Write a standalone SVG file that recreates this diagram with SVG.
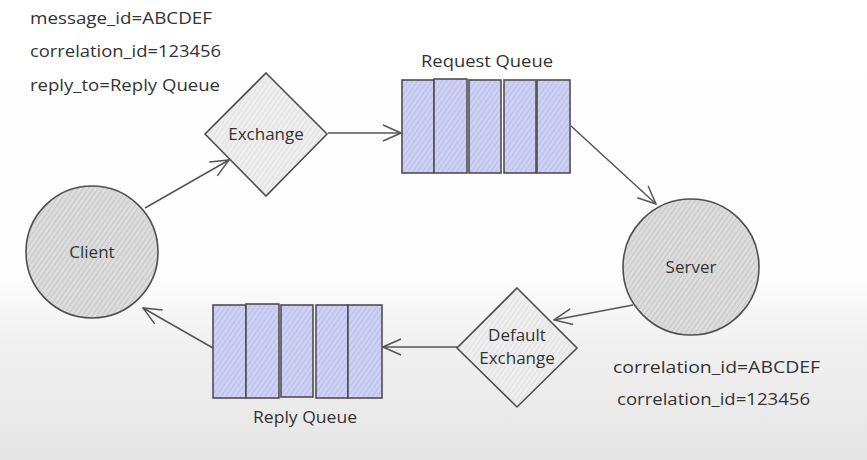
<svg xmlns="http://www.w3.org/2000/svg" width="867" height="460" viewBox="0 0 867 460">
<defs>
<linearGradient id="bg" x1="0" y1="0" x2="0" y2="1">
<stop offset="0" stop-color="#ffffff"/>
<stop offset="0.6" stop-color="#fdfdfd"/>
<stop offset="0.75" stop-color="#f0f0f0"/>
<stop offset="1" stop-color="#e6e6e6"/>
</linearGradient>
<pattern id="hatchGray" width="4" height="4" patternUnits="userSpaceOnUse" patternTransform="rotate(35)">
<rect width="4" height="4" fill="#dcdcdc"/>
<line x1="0" y1="0" x2="0" y2="4" stroke="#b4b4b4" stroke-width="1"/>
</pattern>
<pattern id="hatchLight" width="4" height="4" patternUnits="userSpaceOnUse" patternTransform="rotate(35)">
<rect width="4" height="4" fill="#eeeeee"/>
<line x1="0" y1="0" x2="0" y2="4" stroke="#d2d2d2" stroke-width="1"/>
</pattern>
<pattern id="hatchBlue" width="4" height="4" patternUnits="userSpaceOnUse" patternTransform="rotate(35)">
<rect width="4" height="4" fill="#cdd0f3"/>
<line x1="0" y1="0" x2="0" y2="4" stroke="#a9aee0" stroke-width="1"/>
</pattern>
<marker id="arr" viewBox="0 0 20 20" refX="19" refY="10" markerWidth="20" markerHeight="20" markerUnits="userSpaceOnUse" orient="auto">
<path d="M1 2 L19 10 L1 18" fill="none" stroke="#555" stroke-width="1.5"/>
</marker>
<style>
.sh{stroke:#4f4f4f;stroke-width:1.6;}
.q{fill:url(#hatchBlue);stroke:#4f4f4f;stroke-width:1.6;}
.c{fill:none;stroke:#555;stroke-width:1.5;marker-end:url(#arr);}
.t{font-family:"Open Sans","Liberation Sans",sans-serif;font-size:16px;fill:#333;}
.n{font-size:17px;}
.tm{text-anchor:middle;}
</style>
</defs>
<rect width="867" height="460" fill="url(#bg)"/>

<g id="notes-top">
<text class="t" x="30" y="24" textLength="182" lengthAdjust="spacingAndGlyphs">message_id=ABCDEF</text>
<text class="t" x="30" y="57" textLength="191" lengthAdjust="spacingAndGlyphs">correlation_id=123456</text>
<text class="t" x="30" y="91" textLength="190" lengthAdjust="spacingAndGlyphs">reply_to=Reply Queue</text>
</g>

<g id="connectors">
<line class="c" x1="145" y1="208" x2="229" y2="160"/>
<line class="c" x1="328" y1="133" x2="401" y2="133"/>
<line class="c" x1="571" y1="126" x2="656" y2="204"/>
<line class="c" x1="633" y1="305" x2="554" y2="320"/>
<line class="c" x1="457" y1="347" x2="383" y2="347"/>
<line class="c" x1="213" y1="348" x2="143" y2="308"/>
</g>

<g id="client">
<circle class="sh" cx="92" cy="252" r="66" fill="url(#hatchGray)"/>
<text class="t n tm" x="92" y="258">Client</text>
</g>

<g id="exchange">
<polygon class="sh" points="266,73 327,134 266,196 205,134" fill="url(#hatchLight)"/>
<text class="t n tm" x="266" y="140">Exchange</text>
</g>

<g id="request-queue">
<text class="t tm" x="487" y="67" textLength="132" lengthAdjust="spacingAndGlyphs">Request Queue</text>
<rect class="q" x="402" y="80" width="32" height="93"/>
<rect class="q" x="434" y="79" width="33" height="94"/>
<rect class="q" x="469" y="80" width="32" height="93"/>
<rect class="q" x="504" y="80" width="32" height="93"/>
<rect class="q" x="537" y="80" width="33" height="93"/>
</g>

<g id="server">
<circle class="sh" cx="691" cy="267" r="68" fill="url(#hatchGray)"/>
<text class="t n tm" x="691" y="273">Server</text>
</g>

<g id="default-exchange">
<polygon class="sh" points="517,288 577,348 517,407 457,348" fill="url(#hatchLight)"/>
<text class="t n tm" x="517" y="341">Default</text>
<text class="t n tm" x="517" y="364">Exchange</text>
</g>

<g id="reply-queue">
<rect class="q" x="213" y="305" width="33" height="93"/>
<rect class="q" x="246" y="304" width="33" height="94"/>
<rect class="q" x="281" y="305" width="32" height="92"/>
<rect class="q" x="316" y="305" width="32" height="93"/>
<rect class="q" x="348" y="305" width="34" height="93"/>
<text class="t tm" x="305" y="423" textLength="104" lengthAdjust="spacingAndGlyphs">Reply Queue</text>
</g>

<g id="notes-bottom">
<text class="t" x="613" y="373" textLength="207" lengthAdjust="spacingAndGlyphs">correlation_id=ABCDEF</text>
<text class="t" x="617" y="405" textLength="193" lengthAdjust="spacingAndGlyphs">correlation_id=123456</text>
</g>
</svg>
